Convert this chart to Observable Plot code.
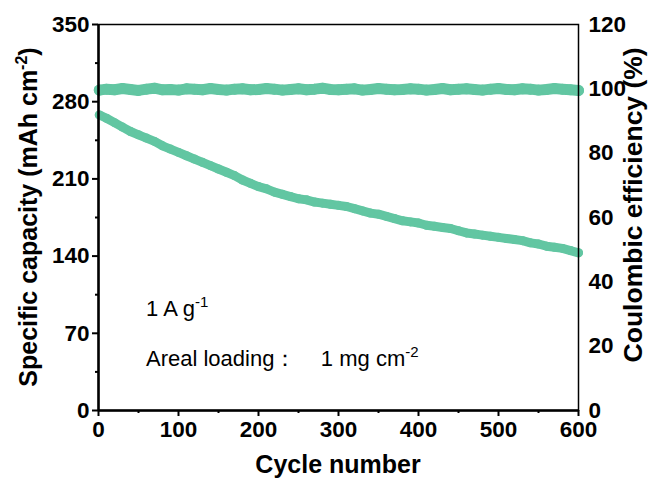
<!DOCTYPE html>
<html><head><meta charset="utf-8">
<script src="https://cdn.jsdelivr.net/npm/d3@7"></script>
<script src="https://cdn.jsdelivr.net/npm/@observablehq/plot@0.6"></script>
<style>body{margin:0;background:#fff}</style>
</head><body><div id="chart"></div>
<script>
// Cycle numbers (sampled every 10 cycles)
const cycles = [1,10,20,30,40,50,60,70,80,90,100,110,120,130,140,150,160,170,180,190,200,210,220,230,240,250,260,270,280,290,300,310,320,330,340,350,360,370,380,390,400,410,420,430,440,450,460,470,480,490,500,510,520,530,540,550,560,570,580,590,600];
// Specific capacity (mAh cm^-2)
const capacity = [268,265,261,257,253,250,247,244,240,237,234,231,228,225,222,219,216,213,209,206,203,201,198,196,194,192,191,189,188,187,186,185,183,181,179,178,176,174,172,171,170,168,167,166,165,163,161,160,159,158,157,156,155,154,152,151,149,148,147,145,143];
// Coulombic efficiency (%)
const efficiency = [99.6,99.9,99.7,100.1,99.8,99.5,99.9,100.2,99.7,99.8,99.6,100.0,99.9,99.7,100.1,99.8,99.6,99.9,100.0,99.7,99.8,100.1,99.9,99.6,99.8,100.0,99.7,99.9,100.2,99.8,99.7,99.9,100.0,99.6,99.8,100.1,99.9,99.7,99.8,100.0,99.9,99.6,99.8,100.1,99.7,99.9,100.0,99.8,99.6,99.9,100.1,99.8,99.7,100.0,99.9,99.6,99.8,100.1,99.9,99.7,99.5];
// Tick labels
const xTicks = [0,100,200,300,400,500,600];
const xMinor = [50,150,250,350,450,550];
const capTicks = [0,70,140,210,280,350];
const capMinor = [35,105,175,245,315];
const ceTicks = [0,20,40,60,80,100,120];

const k = 350 / 120;
const rows = cycles.map((c, i) => ({cycle: c, cap: capacity[i], ce: efficiency[i]}));
const color = "#62c6a2";
const W = 665, H = 491;

const plot = Plot.plot({
  width: W, height: H,
  marginLeft: 98, marginRight: 87, marginTop: 24, marginBottom: 81,
  style: {fontFamily: "'Liberation Sans', Arial, sans-serif", fontSize: "22.5px", fontWeight: "bold", color: "#000", background: "#fff"},
  x: {domain: [0, 600]},
  y: {domain: [0, 350]},
  marks: [
    Plot.line(rows, {x: "cycle", y: d => d.ce * k, stroke: color, strokeWidth: 11}),
    Plot.dot(rows, {x: "cycle", y: d => d.ce * k, r: 5.5, fill: color, stroke: "none"}),
    Plot.line(rows, {x: "cycle", y: "cap", stroke: color, strokeWidth: 9}),
    Plot.dot(rows, {x: "cycle", y: "cap", r: 4.5, fill: color, stroke: "none"}),
    Plot.frame({stroke: "#000", strokeWidth: 1.5}),
    Plot.ruleX([0], {stroke: "#000", strokeWidth: 2.5}),
    Plot.ruleY([0], {stroke: "#000", strokeWidth: 2.5}),
    Plot.axisX(xTicks, {tickSize: 6, tickPadding: 5, strokeWidth: 2, label: null}),
    Plot.axisX(xMinor, {tickSize: 3, tickFormat: () => "", strokeWidth: 2, label: null}),
    Plot.axisY(capTicks, {tickSize: 6, tickPadding: 3, strokeWidth: 2, label: null}),
    Plot.axisY(capMinor, {tickSize: 3, tickFormat: () => "", strokeWidth: 2, label: null}),
    Plot.axisY(ceTicks.map(v => v * k), {anchor: "right", tickSize: 0, tickPadding: 10, tickFormat: d => Math.round(d / k), label: null})
  ]
});
document.getElementById("chart").appendChild(plot);

const xs = plot.scale("x").apply, ys = plot.scale("y").apply;
const svg = d3.select(plot);
const font = "'Liberation Sans', Arial, sans-serif";

// X title
svg.append("text").attr("x", xs(300)).attr("y", H - 18)
  .attr("text-anchor", "middle").attr("font-family", font).attr("font-size", 25).attr("font-weight", "bold")
  .text("Cycle number");

// Left title
const lt = svg.append("text").attr("transform", `translate(37,${ys(175)}) rotate(-90)`)
  .attr("text-anchor", "middle").attr("font-family", font).attr("font-size", 25).attr("font-weight", "bold");
lt.append("tspan").text("Specific capacity (mAh cm");
lt.append("tspan").attr("font-size", 16).attr("dy", -10).text("-2");
lt.append("tspan").attr("dy", 10).text(")");

// Right title
svg.append("text").attr("transform", `translate(642,${ys(186)}) rotate(-90)`)
  .attr("text-anchor", "middle").attr("font-family", font).attr("font-size", 26.5).attr("font-weight", "bold")
  .text("Coulombic efficiency (%)");

// Annotations
const a1 = svg.append("text").attr("x", xs(60)).attr("y", ys(85)).attr("text-anchor", "start")
  .attr("font-family", font).attr("font-size", 22).attr("font-weight", "normal");
a1.append("tspan").text("1 A g");
a1.append("tspan").attr("font-size", 15).attr("dy", -9).text("-1");

const a2 = svg.append("text").attr("x", xs(60)).attr("y", ys(40)).attr("text-anchor", "start")
  .attr("font-family", font).attr("font-size", 22).attr("font-weight", "normal");
a2.append("tspan").text("Areal loading：\u00a0\u00a0\u00a0\u00a01 mg cm");
a2.append("tspan").attr("font-size", 15).attr("dy", -9).text("-2");
</script>
</body></html>
